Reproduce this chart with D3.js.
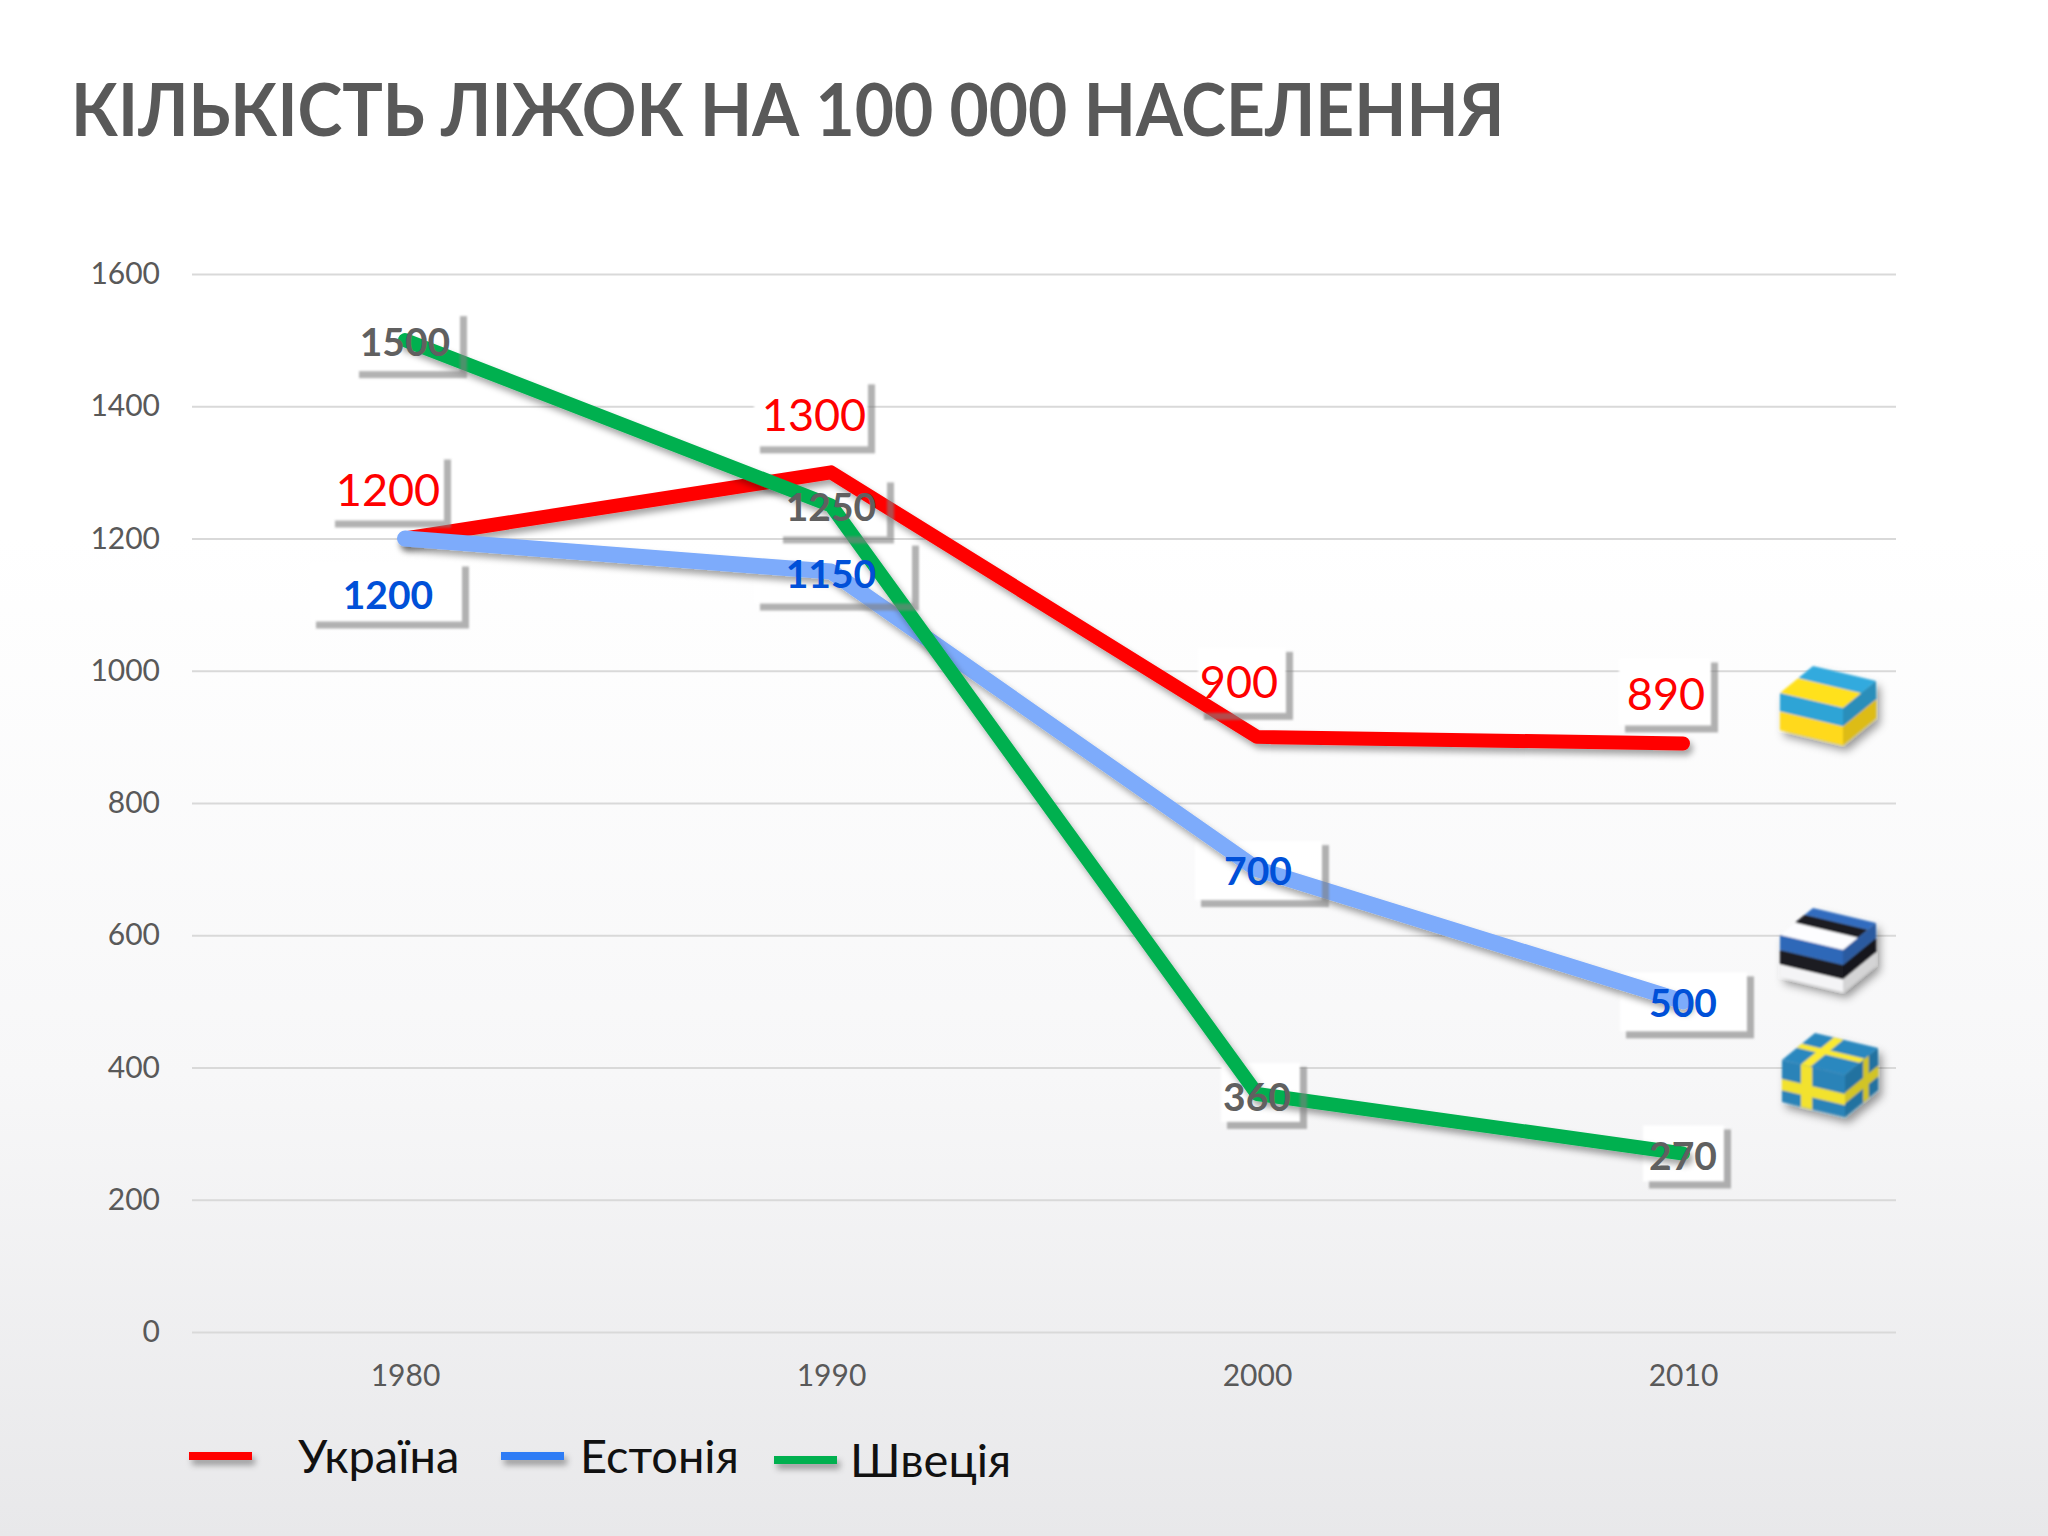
<!DOCTYPE html>
<html>
<head>
<meta charset="utf-8">
<script src="https://cdn.jsdelivr.net/npm/d3@7"></script>
<style>
  html, body { margin: 0; padding: 0; background: #fff; }
  svg { display: block; }
  text { font-family: Lato, "Open Sans", "Noto Sans", sans-serif; }
</style>
</head>
<body>
<div id="chart"></div>
<script>
const years = ['1980', '1990', '2000', '2010'];
const yTicks = [0, 200, 400, 600, 800, 1000, 1200, 1400, 1600];

const ukraine = [1200, 1300, 900, 890];
const estonia = [1200, 1150, 700, 500];
const sweden = [1500, 1250, 360, 270];

const seriesNames = ['Україна', 'Естонія', 'Швеція'];

// label layout: text offset from the point, then box left/right/top/bottom around the text
const ukraineLabels = [[-17, -50, -59, 56, -33, 32], [-17, -58, -60, 54, -34, 32], [-18, -56, -41, 47, -33, 32], [-17, -50, -47, 45, -35, 32]];
const estoniaLabels = [[-17, 55, -78, 74, -31, 28], [0, 1, -77, 81, -31, 31], [1, 1, -63, 64, -29, 30], [0, 1, -63, 64, -30, 29]];
const swedenLabels = [[0, 1, -52, 55, -29, 30], [0, 1, -54, 56, -28, 30], [0, 2, -36, 43, -33, 26], [0, 2, -40, 41, -30, 26]];

const W = 2048, H = 1536;
const left = 192, right = 1896, top_ = 274, bottom = 1332;

const svg = d3.select('#chart').append('svg').attr('width', W).attr('height', H);
const defs = svg.append('defs');

const bg = defs.append('linearGradient').attr('id', 'bg').attr('x1', 0).attr('y1', 0).attr('x2', 0).attr('y2', 1);
bg.append('stop').attr('offset', '0.35').attr('stop-color', '#ffffff');
bg.append('stop').attr('offset', '0.7').attr('stop-color', '#f7f7f8');
bg.append('stop').attr('offset', '1').attr('stop-color', '#e8e8ea');

const shadow = defs.append('filter').attr('id', 'shadow').attr('filterUnits', 'userSpaceOnUse')
  .attr('x', 0).attr('y', 0).attr('width', W).attr('height', H);
shadow.append('feDropShadow').attr('dx', 3).attr('dy', 5).attr('stdDeviation', 3).attr('flood-color', '#000').attr('flood-opacity', 0.35);

const soft = defs.append('filter').attr('id', 'soft').attr('filterUnits', 'userSpaceOnUse')
  .attr('x', 0).attr('y', 0).attr('width', W).attr('height', H);
soft.append('feGaussianBlur').attr('stdDeviation', 1.2);

const cubeFx = defs.append('filter').attr('id', 'cubeFx').attr('filterUnits', 'userSpaceOnUse')
  .attr('x', 0).attr('y', 0).attr('width', W).attr('height', H);
cubeFx.append('feGaussianBlur').attr('stdDeviation', 0.9);
cubeFx.append('feDropShadow').attr('dx', 4).attr('dy', 6).attr('stdDeviation', 4).attr('flood-color', '#000').attr('flood-opacity', 0.4);

svg.append('rect').attr('width', W).attr('height', H).attr('fill', 'url(#bg)');

// Lato runs wider than the reference face, so squeeze the title sideways
svg.append('text').attr('transform', 'translate(71,136) scale(0.94,1)')
  .attr('font-size', 72).attr('font-weight', 700).attr('fill', '#595959')
  .text('КІЛЬКІСТЬ ЛІЖОК НА 100 000 НАСЕЛЕННЯ');

const x = d3.scalePoint().domain(years).range([left, right]).padding(0.5);
const y = d3.scaleLinear().domain([0, 1600]).range([bottom, top_]);

const yAxis = svg.append('g').attr('transform', `translate(${left},0)`)
  .call(d3.axisLeft(y).tickValues(yTicks).tickFormat(d3.format('d')).tickSize(-(right - left)).tickPadding(32));
yAxis.select('.domain').remove();
yAxis.selectAll('line').attr('stroke', '#d9d9d9').attr('stroke-width', 2);
yAxis.selectAll('text').attr('font-size', 30).attr('fill', '#595959').attr('font-family', 'Lato, "Open Sans", sans-serif');

const xAxis = svg.append('g').attr('transform', `translate(0,${bottom})`)
  .call(d3.axisBottom(x).tickSize(0).tickPadding(33));
xAxis.select('.domain').remove();
xAxis.selectAll('text').attr('font-size', 30).attr('fill', '#595959').attr('font-family', 'Lato, "Open Sans", sans-serif');

const series = [
  { values: ukraine, labels: ukraineLabels, line: '#ff0000', key: '#ff0000', text: '#ff0000', size: 45, weight: 400, width: 14 },
  { values: estonia, labels: estoniaLabels, line: '#7dabfb', key: '#2f7bf5', text: '#0050d8', size: 39, weight: 700, width: 16 },
  { values: sweden, labels: swedenLabels, line: '#00b050', key: '#00b050', text: '#606060', size: 39, weight: 700, width: 14 }
];

function labelRows(s) {
  return s.values.map((v, i) => {
    const l = s.labels[i];
    const tx = x(years[i]) + l[0], ty = y(v) + l[1];
    return { v: v, tx: tx, ty: ty, x0: tx + l[2], x1: tx + l[3], y0: ty + l[4], y1: ty + l[5], s: s };
  });
}
const rows = series.flatMap(labelRows);

// white label boxes sit under the lines
svg.append('g').selectAll('rect').data(rows).enter().append('rect')
  .attr('x', d => d.x0).attr('y', d => d.y0)
  .attr('width', d => d.x1 - d.x0).attr('height', d => d.y1 - d.y0)
  .attr('fill', '#ffffff').attr('filter', 'url(#soft)');

const line = d3.line().x((d, i) => x(years[i])).y(d => y(d));

svg.append('g').selectAll('path').data(series).enter().append('path')
  .attr('d', d => line(d.values))
  .attr('fill', 'none')
  .attr('stroke', d => d.line)
  .attr('stroke-width', d => d.width)
  .attr('stroke-linecap', 'round')
  .attr('stroke-linejoin', 'round')
  .attr('filter', 'url(#shadow)');

// box shadows fall over the lines
const boxShadow = svg.append('g').attr('filter', 'url(#soft)').attr('fill', '#7f7f7f').attr('fill-opacity', 0.6);
boxShadow.selectAll('.sr').data(rows).enter().append('rect').attr('class', 'sr')
  .attr('x', d => d.x1).attr('y', d => d.y0 + 4).attr('width', 7).attr('height', d => d.y1 - d.y0 + 3);
boxShadow.selectAll('.sb').data(rows).enter().append('rect').attr('class', 'sb')
  .attr('x', d => d.x0 + 6).attr('y', d => d.y1).attr('width', d => d.x1 - d.x0 - 6).attr('height', 7);

svg.append('g').selectAll('text').data(rows).enter().append('text')
  .attr('x', d => d.tx).attr('y', d => d.ty)
  .attr('text-anchor', 'middle').attr('dominant-baseline', 'central')
  .attr('font-size', d => d.s.size).attr('font-weight', d => d.s.weight)
  .attr('fill', d => d.s.text)
  .text(d => d.v);

// legend
const legendKeys = [[189, 252, 1456], [501, 564, 1456], [774, 837, 1460]];
const legendText = [[298, 1473], [580, 1473], [850, 1477]];
const legend = svg.append('g');
legend.selectAll('line').data(series).enter().append('line')
  .attr('x1', (d, i) => legendKeys[i][0]).attr('x2', (d, i) => legendKeys[i][1])
  .attr('y1', (d, i) => legendKeys[i][2]).attr('y2', (d, i) => legendKeys[i][2])
  .attr('stroke', d => d.key).attr('stroke-width', 8).attr('filter', 'url(#shadow)');
legend.selectAll('text').data(seriesNames).enter().append('text')
  .attr('x', (d, i) => legendText[i][0]).attr('y', (d, i) => legendText[i][1])
  .attr('font-size', 47).attr('fill', '#111').text(d => d);

// little flag cubes on the right
function cube(px, py, h, paint) {
  const L = [px, py], B = [px + 33, py - 27], R = [px + 96, py - 12], F = [px + 63, py + 15];
  const down = p => [p[0], p[1] + h];
  const g = svg.append('g').attr('filter', 'url(#cubeFx)');
  const mix = (a, b, t) => [a[0] + (b[0] - a[0]) * t, a[1] + (b[1] - a[1]) * t];
  function face(c, shade) {
    return function (u0, u1, v0, v1, color) {
      const pt = (u, v) => mix(mix(c[0], c[1], u), mix(c[3], c[2], u), v);
      g.append('path')
        .attr('d', d3.line()([pt(u0, v0), pt(u1, v0), pt(u1, v1), pt(u0, v1)]) + 'Z')
        .attr('fill', d3.color(color).darker(shade).formatHex());
    };
  }
  paint(face([B, R, F, L], -0.1), face([L, F, down(F), down(L)], 0), face([F, R, down(R), down(F)], 0.4));
}

const uaBlue = '#2fa4d6', uaYellow = '#ffd91a';
cube(1780, 693, 37, (top, front, side) => {
  top(0, 1, 0, 0.45, uaBlue); top(0, 1, 0.45, 1, uaYellow);
  front(0, 1, 0, 0.5, uaBlue); front(0, 1, 0.5, 1, uaYellow);
  side(0, 1, 0, 0.5, uaBlue); side(0, 1, 0.5, 1, uaYellow);
});

const eeBlue = '#2f68b8', eeBlack = '#1c1c22', eeWhite = '#f4f4f6';
cube(1780, 935, 42, (top, front, side) => {
  top(0, 1, 0, 0.25, eeBlue); top(0, 1, 0.25, 0.55, eeBlack); top(0, 1, 0.55, 1, eeWhite);
  [front, side].forEach(f => {
    f(0, 1, 0, 0.36, eeBlue); f(0, 1, 0.36, 0.7, eeBlack); f(0, 1, 0.7, 1, eeWhite);
  });
});

const seBlue = '#2a83b8', seYellow = '#f2e22e';
cube(1782, 1060, 42, (top, front, side) => {
  top(0, 1, 0, 1, seBlue); top(0, 1, 0.4, 0.55, seYellow); top(0.3, 0.45, 0, 1, seYellow);
  front(0, 1, 0, 1, seBlue); front(0, 1, 0.45, 0.72, seYellow); front(0.3, 0.48, 0, 1, seYellow);
  side(0, 1, 0, 1, seBlue); side(0, 1, 0.42, 0.68, seYellow); side(0.55, 0.72, 0, 1, seYellow);
});
</script>
</body>
</html>
